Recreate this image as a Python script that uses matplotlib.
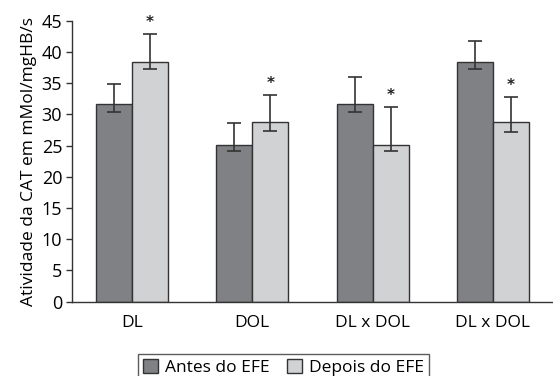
import numpy as np
import matplotlib
matplotlib.use("Agg")
import matplotlib.pyplot as plt

plt.rcParams["font.family"] = ["Open Sans", "DejaVu Sans"]

GROUPS = ["DL", "DOL", "DL x DOL", "DL x DOL"]
ANTES = [31.6, 25.1, 31.6, 38.3]
DEPOIS = [38.3, 28.7, 25.1, 28.7]
# asymmetric error bars (lower, upper)
ANTES_ERR_LO = [1.3, 1.0, 1.2, 1.0]
ANTES_ERR_HI = [3.2, 3.5, 4.3, 3.4]
DEPOIS_ERR_LO = [1.1, 1.3, 1.0, 1.6]
DEPOIS_ERR_HI = [4.5, 4.4, 6.1, 4.0]
SIGNIF = [True, True, True, True]

DARK = "#808184"
LIGHT = "#d1d2d4"
EDGE = "#333333"

fig = plt.figure(figsize=(5.53, 3.76), dpi=100)
ax = fig.add_axes([0.130, 0.198, 0.870, 0.747])

x = np.arange(len(GROUPS))
w = 0.3
err_kw = dict(ecolor=EDGE, elinewidth=1.2, capsize=5, capthick=1.2)
ax.bar(x - w / 2, ANTES, w, color=DARK, edgecolor=EDGE, linewidth=1.0,
       yerr=[ANTES_ERR_LO, ANTES_ERR_HI], error_kw=err_kw, label="Antes do EFE")
ax.bar(x + w / 2, DEPOIS, w, color=LIGHT, edgecolor=EDGE, linewidth=1.0,
       yerr=[DEPOIS_ERR_LO, DEPOIS_ERR_HI], error_kw=err_kw, label="Depois do EFE")

# significance marks above the "after" bars
for xi, v, e, s in zip(x, DEPOIS, DEPOIS_ERR_HI, SIGNIF):
    if s:
        ax.annotate("*", (xi + w / 2, v + e), xytext=(0, 3), textcoords="offset points",
                    ha="center", va="bottom", fontsize=11, fontweight="bold",
                    color="#222222", family="DejaVu Sans")

ax.set_xlim(-0.5, 3.5)
ax.set_ylim(0, 45)
ax.set_yticks(range(0, 46, 5))
ax.set_xticks(x)
ax.set_xticklabels(GROUPS)
ax.tick_params(axis="y", labelsize=13, length=4, width=1, color=EDGE, pad=3)
ax.tick_params(axis="x", labelsize=12.5, length=0, pad=10)
ax.set_ylabel("Atividade da CAT em mMol/mgHB/s", fontsize=12.5, labelpad=3)
for side in ("top", "right"):
    ax.spines[side].set_visible(False)
for side in ("left", "bottom"):
    ax.spines[side].set_color(EDGE)
    ax.spines[side].set_linewidth(1.0)

leg = fig.legend(loc="upper center", bbox_to_anchor=(0.513, 0.082), ncol=2,
                 fontsize=12.5, frameon=True, fancybox=False, edgecolor=EDGE,
                 handlelength=0.85, handleheight=0.85, handletextpad=0.4,
                 columnspacing=1.0, borderpad=0.3)
leg.get_frame().set_linewidth(1.0)

fig.savefig("out.png", dpi=100)
